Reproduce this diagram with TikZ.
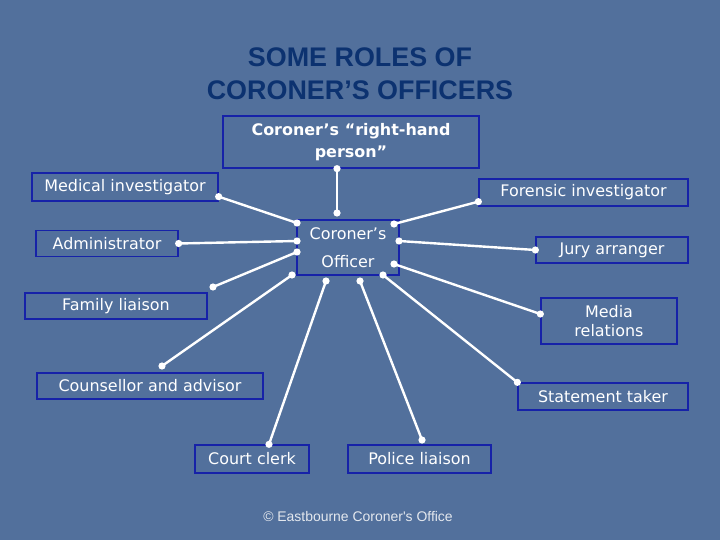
\documentclass[tikz,border=0pt]{standalone}
\usepackage{fontspec}
\newfontfamily\boxfont{DejaVu Sans}
\newfontfamily\headfont{Liberation Sans}
\definecolor{slidebg}{RGB}{82,112,156}
\definecolor{roleblue}{RGB}{22,34,168}
\definecolor{titleblue}{RGB}{12,50,112}
\definecolor{notegray}{RGB}{228,232,238}
\begin{document}
\begin{tikzpicture}[x=1bp,y=-1bp,
  role/.style={draw=roleblue,line width=1.3bp,text=white,align=center,inner sep=0pt,
    font=\boxfont\fontsize{16}{19}\selectfont},
  link/.style={white,line width=2.4bp}]
\useasboundingbox (0,0) rectangle (720,540);
\fill[slidebg] (0,0) rectangle (720,540);

% heading
\node[font=\headfont\bfseries\fontsize{27}{33}\selectfont,text=titleblue,align=center] (title) at (360,73.5) {SOME ROLES OF\\CORONER’S OFFICERS};

% centre and top
\node[role,minimum width=102bp,minimum height=55bp,font=\boxfont\fontsize{16}{28}\selectfont] (officer) at (348,247.5) {Coroner’s\\Officer};
\node[role,minimum width=256bp,minimum height=52bp,font=\boxfont\bfseries\fontsize{16}{22}\selectfont] (hand) at (351,142) {Coroner’s “right-hand\\person”};

% left column
\node[role,minimum width=186bp,minimum height=28bp] (medical) at (125,187) {Medical investigator};
\node[role,minimum width=142bp,minimum height=26bp] (admin) at (107,243.5) {Administrator};
\node[role,minimum width=182bp,minimum height=26bp] (family) at (116,306) {Family liaison};
\node[role,minimum width=226bp,minimum height=26bp] (counsel) at (150,386) {Counsellor and advisor};

% right column
\node[role,minimum width=209bp,minimum height=27bp] (forensic) at (583.5,192.5) {Forensic investigator};
\node[role,minimum width=152bp,minimum height=26bp] (jury) at (612,250) {Jury arranger};
\node[role,minimum width=136bp,minimum height=46bp] (media) at (609,321) {Media\\relations};
\node[role,minimum width=170bp,minimum height=27bp] (statement) at (603,396.5) {Statement taker};

% bottom row
\node[role,minimum width=114bp,minimum height=28bp] (clerk) at (252,459) {Court clerk};
\node[role,minimum width=143bp,minimum height=28bp] (police) at (419.5,459) {Police liaison};

\node[font=\headfont\fontsize{14}{16}\selectfont,text=notegray] (credit) at (358,517) {© Eastbourne Coroner\textquotesingle s Office};

% dots round the officer's box
\coordinate (oTop) at (337,213);
\coordinate (oMed) at (297,223);
\coordinate (oAdm) at (297,241);
\coordinate (oFam) at (297,252);
\coordinate (oCou) at (292,275);
\coordinate (oClk) at (326,281);
\coordinate (oPol) at (360,281);
\coordinate (oSta) at (383,275);
\coordinate (oMda) at (394,264);
\coordinate (oJur) at (399,241);
\coordinate (oFor) at (394,224);

% dots at the role boxes
\coordinate (eHand) at (hand.south -| oTop);
\coordinate (eMed) at ([yshift=5bp]medical.south east);
\coordinate (eAdm) at (admin.east);
\coordinate (eFam) at (213,287);
\coordinate (eCou) at (162,366);
\coordinate (eClk) at ([xshift=17bp]clerk.north);
\coordinate (ePol) at (422,440);
\coordinate (eSta) at (statement.north west);
\coordinate (eMda) at ([yshift=7bp]media.west);
\coordinate (eJur) at (jury.west);
\coordinate (eFor) at ([yshift=5bp]forensic.south west);

% connectors
\draw[link] (eHand) -- (oTop);
\draw[link] (eMed) -- (oMed);
\draw[link] (eAdm) -- (oAdm);
\draw[link] (eFam) -- (oFam);
\draw[link] (eCou) -- (oCou);
\draw[link] (eClk) -- (oClk);
\draw[link] (ePol) -- (oPol);
\draw[link] (eSta) -- (oSta);
\draw[link] (eMda) -- (oMda);
\draw[link] (eJur) -- (oJur);
\draw[link] (eFor) -- (oFor);

\fill[white] (oTop) circle (3.6bp) (oMed) circle (3.6bp) (oAdm) circle (3.6bp)
  (oFam) circle (3.6bp) (oCou) circle (3.6bp) (oClk) circle (3.6bp)
  (oPol) circle (3.6bp) (oSta) circle (3.6bp) (oMda) circle (3.6bp)
  (oJur) circle (3.6bp) (oFor) circle (3.6bp);
\fill[white] (eHand) circle (3.6bp) (eMed) circle (3.6bp) (eAdm) circle (3.6bp)
  (eFam) circle (3.6bp) (eCou) circle (3.6bp) (eClk) circle (3.6bp)
  (ePol) circle (3.6bp) (eSta) circle (3.6bp) (eMda) circle (3.6bp)
  (eJur) circle (3.6bp) (eFor) circle (3.6bp);
\end{tikzpicture}
\end{document}
